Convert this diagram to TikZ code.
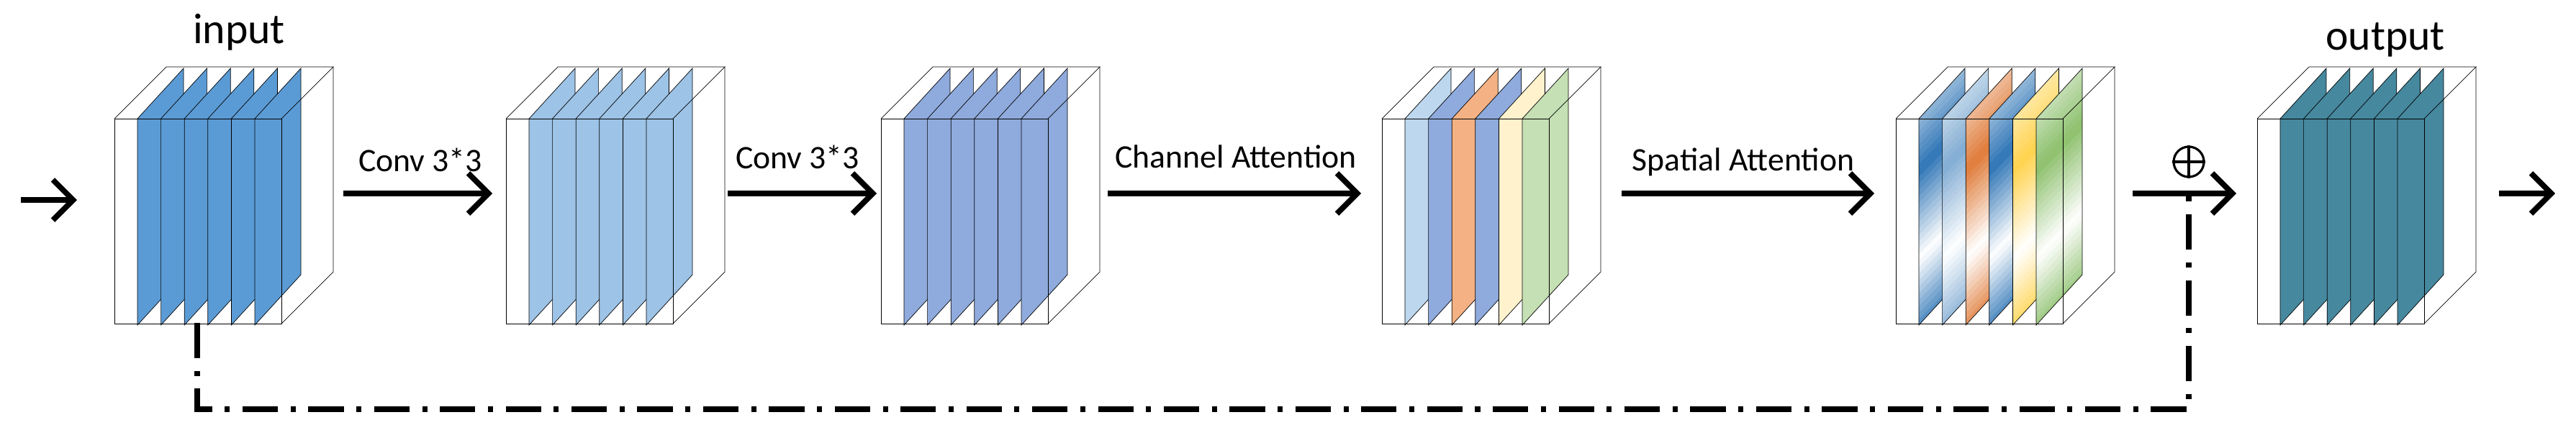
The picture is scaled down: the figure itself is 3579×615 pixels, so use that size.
\documentclass[tikz,border=0pt]{standalone}
\usepackage{fontspec}
\setmainfont{Carlito}
\usepackage{tikz}
\usetikzlibrary{positioning,arrows.meta}

\definecolor{inblue}{HTML}{5B9BD5}
\definecolor{convblue}{HTML}{9DC3E6}
\definecolor{midblue}{HTML}{8FAADC}
\definecolor{paleblue}{HTML}{BDD7EE}
\definecolor{peach}{HTML}{F4B183}
\definecolor{cream}{HTML}{FFF2CC}
\definecolor{sage}{HTML}{C5E0B4}
\definecolor{deepblue}{HTML}{2E75B6}
\definecolor{rust}{HTML}{E07B39}
\definecolor{gold}{HTML}{FFD34D}
\definecolor{leaf}{HTML}{8CC06C}
\definecolor{teal}{HTML}{46889E}

% one stack of feature maps, front-left corner x = #1
\newcommand{\fmap}[3]{%
  \foreach \c [count=\i from 0] in {#2} {
    \pgfmathsetmacro{\sx}{#1+32+32.6*\i}
    \colorlet{slicecol}{\c}
    \ifnum#3=1
      \begin{scope}
        \clip (\sx,452) -- (\sx,165) -- (\sx+64,95) -- (\sx+64,382) -- cycle;
        \foreach \t in {0,...,39} {
          \pgfmathsetmacro{\u}{\t/39}
          \pgfmathsetmacro{\yo}{95+9*\t}
          \pgfmathtruncatemacro{\p}{\u<0.4 ? 10+225*\u : (\u<0.75 ? 100-285*(\u-0.4) : 320*(\u-0.75))}
          \fill[slicecol!\p!white] (\sx-2,\yo) -- ++(68,-70) -- ++(0,10) -- ++(-68,70) -- cycle;
        }
      \end{scope}
      \draw[very thin] (\sx,452) -- (\sx,165) -- (\sx+64,95) -- (\sx+64,382) -- cycle;
    \else
      \draw[very thin, fill=slicecol] (\sx,452) -- (\sx,165) -- (\sx+64,95) -- (\sx+64,382) -- cycle;
    \fi
  }
  \draw[very thin] (#1,450) rectangle (#1+232,165);
  \draw[very thin] (#1,165) -- (#1+72,93) -- (#1+304,93) -- (#1+232,165);
  \draw[very thin] (#1+304,93) -- (#1+304,378) -- (#1+232,450);
}

\begin{document}
\begin{tikzpicture}[x=0.01cm, y=-0.01cm,
    flow/.style={line width=2.2pt, -{Straight Barb[length=8pt, width=16pt]}},
    lbl/.style={font=\fontsize{13}{15}\selectfont, inner sep=0pt},
    ttl/.style={font=\fontsize{17}{19}\selectfont, inner sep=0pt},
    skip/.style={line width=2.2pt, dash pattern=on 14pt off 5pt on 2pt off 5pt}]
\useasboundingbox (0,0) rectangle (3579,615);

\fmap{159}{inblue,inblue,inblue,inblue,inblue,inblue}{0}
\fmap{703}{convblue,convblue,convblue,convblue,convblue,convblue}{0}
\fmap{1224}{midblue,midblue,midblue,midblue,midblue,midblue}{0}
\fmap{1920}{paleblue,midblue,peach,midblue,cream,sage}{0}
\fmap{2634}{deepblue,deepblue!60,rust,deepblue,gold,leaf}{1}
\fmap{3136}{teal,teal,teal,teal,teal,teal}{0}

\node[ttl] (input) at (332,45) {input};
\node[ttl] (output) at (3314,55) {output};

\coordinate (start) at (29,278);
\coordinate (in) at (107,278);
\coordinate (c1a) at (477,269);
\coordinate (c1b) at (684,269);
\coordinate (c2a) at (1011,269);
\coordinate (c2b) at (1218,269);
\coordinate (caa) at (1539,269);
\coordinate (cab) at (1891,269);
\coordinate (saa) at (2253,269);
\coordinate (sab) at (2604,269);
\coordinate (sum1) at (2963,269);
\coordinate (sum2) at (3107,269);
\coordinate (end1) at (3472,269);
\coordinate (end2) at (3550,269);
\coordinate (tap) at (274,449);
\coordinate (corner1) at (274,569);
\coordinate (corner2) at (3041,569);
\coordinate (join) at (3041,272);

\draw[flow] (start) -- (in);
\draw[flow] (c1a) -- (c1b);
\draw[flow] (c2a) -- (c2b);
\draw[flow] (caa) -- (cab);
\draw[flow] (saa) -- (sab);
\draw[flow] (sum1) -- (sum2);
\draw[flow] (end1) -- (end2);

\node[lbl] (conv1) at (584,222) {Conv 3*3};
\node[lbl] (conv2) at (1108,218) {Conv 3*3};
\node[lbl] (chan) at (1717,218) {Channel Attention};
\node[lbl] (spat) at (2422,225) {Spatial Attention};
\node[circle, draw, line width=0.9pt, minimum size=0.42cm, inner sep=0pt] (plus) at (3041,225) {};
\draw[line width=0.9pt] (plus.north) -- (plus.south) (plus.west) -- (plus.east);

\draw[skip] (tap) -- (corner1) -- (corner2) -- (join);
\end{tikzpicture}
\end{document}
